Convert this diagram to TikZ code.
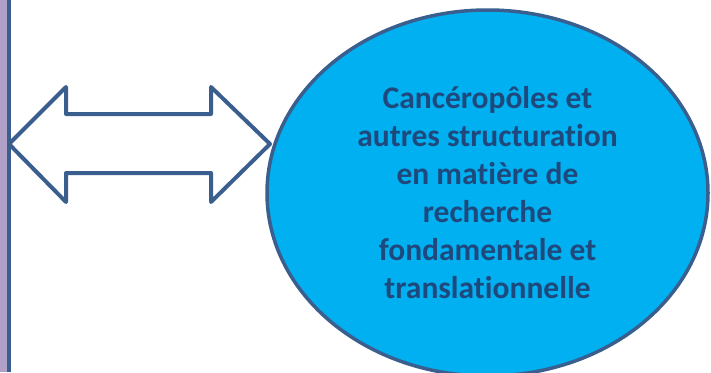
\documentclass[tikz,border=0pt]{standalone}
\usepackage{fontspec}
\setmainfont{Carlito}[Ligatures={NoCommon}]
\usetikzlibrary{shapes.geometric}

\definecolor{bordure}{HTML}{3A5F8E}
\definecolor{remplissage}{HTML}{00B0F0}
\definecolor{texte}{HTML}{1F497D}
\definecolor{bande}{HTML}{B1A0C7}

\begin{document}
\begin{tikzpicture}[x=1pt,y=-1pt]
        \useasboundingbox (0,0) rectangle (711,372);
        \fill[bande] (0,0) rectangle (6.5,372);
        \draw[bordure, line width=4pt] (8.5,0) -- (8.5,372);
        \coordinate (g) at (9,144);
        \node[ellipse, draw=bordure, fill=remplissage, line width=3.5pt,
              minimum width=441pt, minimum height=366pt, inner sep=0pt,
              text=texte, align=center, font=\fontsize{31.5}{38}\selectfont\bfseries]
              (c) at (487.5,193) {Canc\'{e}rop\^{o}les et\\autres structuration\\en mati\`{e}re de\\recherche\\fondamentale et\\translationnelle};
        \draw[bordure, line width=4pt, line join=round]
              (g) -- (66,87) -- (66,114) -- (211,114) -- (211,87) -- (270,144)
              -- (211,202) -- (211,173) -- (66,173) -- (66,202) -- cycle;
    \end{tikzpicture}
\end{document}
